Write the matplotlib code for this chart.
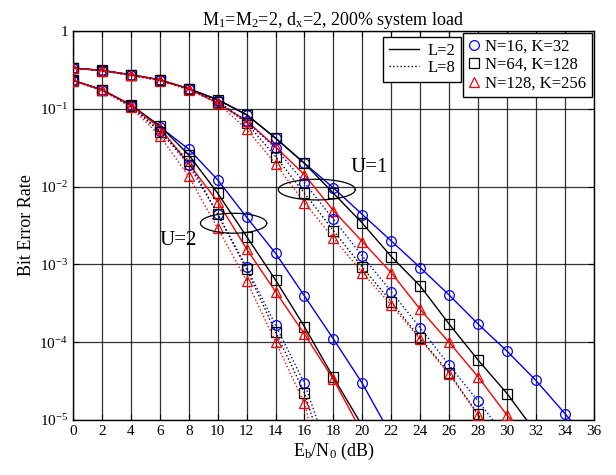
import numpy as np
import matplotlib
matplotlib.use("Agg")
import matplotlib.pyplot as plt
from matplotlib.lines import Line2D

plt.rcParams['font.family'] = ['Liberation Serif', 'DejaVu Serif']
plt.rcParams['mathtext.fontset'] = 'custom'
plt.rcParams['mathtext.rm'] = 'Liberation Serif'
plt.rcParams['mathtext.it'] = 'Liberation Serif:italic'
plt.rcParams['mathtext.bf'] = 'Liberation Serif:bold'

# Eb/N0 grid (dB)
snr = np.arange(0, 38, 2)

# ---- U = 1 ----
u1_n16_l2 = [0.334, 0.311, 0.274, 0.236, 0.181, 0.131, 0.0838, 0.0420, 0.0199, 0.00962,
             0.00437, 0.00200, 9.08e-4, 4.04e-4, 1.71e-4, 7.67e-5, 3.22e-5, 1.21e-5, 4.4e-6]
u1_n64_l2 = [0.334, 0.311, 0.274, 0.236, 0.181, 0.131, 0.0838, 0.0420, 0.0199, 0.00822,
             0.00338, 0.00126, 5.27e-4, 1.71e-4, 5.89e-5, 2.19e-5, 6.9e-6]
u1_n128_l2 = [0.334, 0.311, 0.274, 0.236, 0.181, 0.118, 0.0702, 0.0324, 0.0142, 0.00491,
              0.00196, 7.82e-4, 2.64e-4, 9.93e-5, 3.59e-5, 1.15e-5, 4.1e-6]
u1_n16_l8 = [0.334, 0.309, 0.270, 0.232, 0.178, 0.125, 0.0687, 0.0312, 0.0112, 0.0038,
             0.00128, 4.46e-4, 1.53e-4, 5.07e-5, 1.75e-5, 5.8e-6]
u1_n64_l8 = [0.334, 0.309, 0.270, 0.232, 0.178, 0.123, 0.0655, 0.0243, 0.00822, 0.00272,
             9.18e-4, 3.31e-4, 1.12e-4, 4.04e-5, 1.18e-5, 3.3e-6]
u1_n128_l8 = [0.334, 0.309, 0.268, 0.230, 0.175, 0.118, 0.0548, 0.0196, 0.00622, 0.00217,
              7.82e-4, 3.00e-4, 1.09e-4, 3.88e-5, 1.15e-5, 3.2e-6]

# ---- U = 2 ----
u2_n16_l2 = [0.231, 0.176, 0.112, 0.0586, 0.0303, 0.0122, 0.00404, 0.00139, 3.92e-4,
             1.10e-4, 2.95e-5, 6.3e-6]
u2_n64_l2 = [0.231, 0.176, 0.112, 0.0604, 0.0256, 0.00822, 0.00228, 6.30e-4, 1.58e-4,
             3.52e-5, 8.4e-6]
u2_n128_l2 = [0.231, 0.176, 0.111, 0.0569, 0.0196, 0.00641, 0.00158, 4.46e-4, 1.27e-4,
              3.32e-5, 6.8e-6]
u2_n16_l8 = [0.229, 0.174, 0.110, 0.0521, 0.0190, 0.00446, 9.18e-4, 1.66e-4, 2.95e-5, 2.5e-6]
u2_n64_l8 = [0.229, 0.174, 0.108, 0.0506, 0.0214, 0.00440, 8.65e-4, 1.36e-4, 2.23e-5, 1.5e-6]
u2_n128_l8 = [0.229, 0.172, 0.105, 0.0450, 0.0135, 0.00292, 6.17e-4, 1.01e-4, 1.63e-5, 6e-7]

config_labels = ['N=16, K=32', 'N=64, K=128', 'N=128, K=256']
config_colors = ['#0000ff', '#000000', '#ff0000']
config_markers = ['o', 's', '^']
x_ticks = list(range(0, 37, 2))
y_ticks = [1e-5, 1e-4, 1e-3, 1e-2, 1e-1, 1]
y_tick_labels = [r'$10^{-5}$', r'$10^{-4}$', r'$10^{-3}$', r'$10^{-2}$', r'$10^{-1}$', '1']

fig = plt.figure(figsize=(6.16, 4.75), dpi=100)
ax = fig.add_axes([0.1185, 0.1158, 0.8455, 0.819])

groups = [
    (u1_n16_l2, u1_n64_l2, u1_n128_l2, '-'),
    (u1_n16_l8, u1_n64_l8, u1_n128_l8, ':'),
    (u2_n16_l2, u2_n64_l2, u2_n128_l2, '-'),
    (u2_n16_l8, u2_n64_l8, u2_n128_l8, ':'),
]
for *curves, ls in groups:
    for vals, col, mk in zip(curves, config_colors, config_markers):
        ax.semilogy(snr[:len(vals)], vals, linestyle=ls, color=col, lw=1.0,
                    marker=mk, markersize=7, markerfacecolor='none',
                    markeredgecolor=col, markeredgewidth=0.9, zorder=3)

# ellipses marking the two user groups
t = np.linspace(0, 2 * np.pi, 200)
for cx, cy, a, b in [(16.85, -2.039, 2.66, 0.133), (11.1, -2.471, 2.29, 0.128)]:
    ax.plot(cx + a * np.cos(t), 10 ** (cy + b * np.sin(t)), color='black', lw=0.9, zorder=4)
ax.text(20.5, 10 ** -1.76, 'U=1', fontsize=15, ha='center', va='center')
ax.text(7.3, 10 ** -2.69, 'U=2', fontsize=15, ha='center', va='center')

ax.set_xlim(0, 36)
ax.set_ylim(1e-5, 1)
ax.set_xticks(x_ticks)
ax.set_yticks(y_ticks)
ax.set_yticklabels(y_tick_labels)
ax.yaxis.set_minor_locator(matplotlib.ticker.NullLocator())
ax.tick_params(direction='in', labelsize=11, length=4, top=True, right=True)
ax.grid(True, which='major', color='black', lw=0.9, alpha=0.8)
for s in ax.spines.values():
    s.set_linewidth(1.0)

ax.set_title(r'M$_1$=M$_2$=2, d$_\mathrm{x}$=2, 200% system load', fontsize=13, pad=4)
ax.set_xlabel(r'E$_\mathrm{b}$/N$_0$ (dB)', fontsize=13, labelpad=2)
ax.set_ylabel('Bit Error Rate', fontsize=13, labelpad=3)

# legend for the line styles
style_handles = [Line2D([], [], color='black', ls='-', lw=1.0),
                 Line2D([], [], color='black', ls=':', lw=1.0)]
leg1 = ax.legend(style_handles, ['L=2', 'L=8'], loc='upper left',
                 bbox_to_anchor=(0.595, 0.985), fontsize=12, frameon=True,
                 fancybox=False, edgecolor='black', framealpha=1,
                 borderaxespad=0, handlelength=1.8, handletextpad=0.5,
                 labelspacing=0.1, borderpad=0.35)
leg1.get_frame().set_linewidth(1.0)
leg1.set_zorder(6)
ax.add_artist(leg1)

# legend for the system sizes
marker_handles = [Line2D([], [], color=c, ls='none', marker=m, markersize=7,
                         markerfacecolor='none', markeredgewidth=0.9)
                  for c, m in zip(config_colors, config_markers)]
leg2 = ax.legend(marker_handles, config_labels, loc='upper right',
                 bbox_to_anchor=(0.996, 0.996), fontsize=12, frameon=True,
                 fancybox=False, edgecolor='black', framealpha=1,
                 borderaxespad=0, handlelength=0.6, handletextpad=0.35,
                 labelspacing=0.15, borderpad=0.35)
leg2.get_frame().set_linewidth(1.0)
leg2.set_zorder(6)

fig.savefig('out.png', dpi=100)
